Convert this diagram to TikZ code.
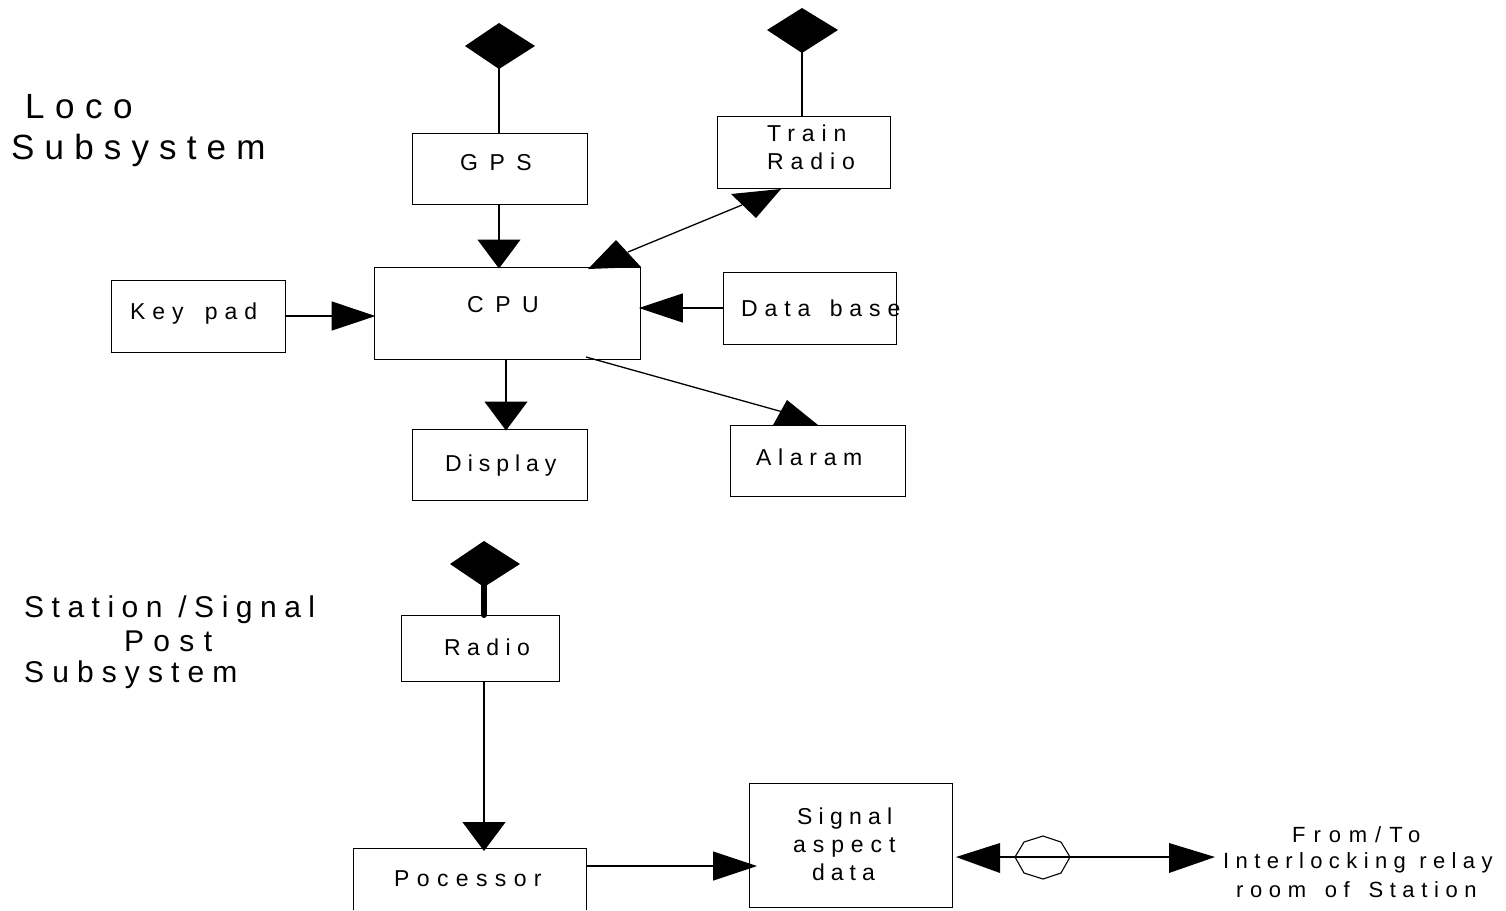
\documentclass[tikz,border=0pt]{standalone}
\usepackage{fontspec}
\setmainfont{Liberation Sans}
\usetikzlibrary{arrows.meta}
\tikzset{
  x=1pt,y=-1pt,
  box/.style={draw,line width=1.3pt,inner sep=0pt},
  lbl/.style={inner sep=0pt,anchor=west,font=\fontsize{23}{30}\selectfont},
  lblb/.style={lbl,anchor=base west},
  conn/.style={line width=1.3pt},
  arr/.style={conn,shorten >=-2pt,-{Triangle[length=44pt,width=29pt]}},
  arrv/.style={conn,shorten >=-2pt,-{Triangle[length=29pt,width=43pt]}},
  antenna/.style={fill=black,draw=none}
}
\newcommand{\bx}[5]{\node[box,anchor=north west,minimum width=#3pt,minimum height=#4pt] (#5) at (#1,#2) {};}
\newcommand{\LS}[1]{\addfontfeature{LetterSpace=#1}}
\begin{document}
\begin{tikzpicture}
\useasboundingbox (0,0) rectangle (1506,910);
\fill[white] (0,0) rectangle (1506,910);
% boxes
\bx{411.5}{132.5}{175}{71}{gps}
\bx{716.5}{116}{173}{72}{train}
\bx{373.5}{266.5}{266}{92}{cpu}
\bx{110.5}{279.5}{174}{72}{key}
\bx{722.5}{271.5}{173}{72}{data}
\bx{411.5}{428.5}{175}{71}{disp}
\bx{729.5}{424.5}{175}{71}{alarm}
\bx{401}{615}{158}{66}{radio}
\bx{748.5}{782.5}{203}{124}{sig}
\draw[line width=1.3pt] (353.5,910) |- (586.5,848.5) -- (586.5,910);
% labels
\begin{scope}[every node/.style={lbl}]
\node[lblb] (t1) at (25,118) {\fontsize{35}{40}\selectfont\LS{30}Loco};
\node[lblb] (t2) at (11,159.5) {\fontsize{35}{40}\selectfont\LS{29}Subsystem};
\node[lblb] (t3) at (24,617) {\fontsize{30}{36}\selectfont\LS{25}Station /Signal};
\node[lblb] (t4) at (124,651) {\fontsize{30}{36}\selectfont\LS{31}Post};
\node[lblb] (t5) at (24,682) {\fontsize{30}{36}\selectfont\LS{27}Subsystem};
\node (l1) at (460,163) {\LS{50}GPS};
\node (l2) at (767,133) {\LS{30}Train};
\node (l3) at (767,161) {\LS{30}Radio};
\node (l4) at (467,305) {\LS{50}CPU};
\node (l5) at (130,314) {\LS{30}Key\hspace{8pt} pad};
\node[lblb] (l6) at (741,316) {\LS{30}Data\hspace{6pt} base};
\node (l7) at (445,466) {\LS{26}Display};
\node (l8) at (756,457) {\LS{29}Alaram};
\node (l9) at (444,647) {\LS{28}Radio};
\node (l10) at (394,879) {\LS{32}Pocessor};
\node[lblb] (l11) at (797,824) {\LS{27}Signal};
\node[lblb] (l12) at (793,852) {\LS{30}aspect};
\node[lblb] (l13) at (812,880) {\LS{26}data};
\node[lblb] (l14) at (1292,842) {\fontsize{22}{30}\selectfont\LS{36}From/To};
\node[lblb] (l15) at (1223,868) {\fontsize{22}{30}\selectfont\LS{29}Interlocking\hspace{1pt} relay};
\node[lblb] (l16) at (1236,897) {\fontsize{22}{30}\selectfont\LS{30}room\hspace{6pt} of\hspace{6pt} Station};
\end{scope}
% antennas
\coordinate (a1) at (499,46);
\coordinate (a2) at (802,30);
\coordinate (a3) at (484,564);
\fill[antenna] (465,46) -- (499,23) -- (535,46) -- (499,69) -- cycle;
\fill[antenna] (767,30) -- (802,8) -- (838,30) -- (802,53) -- cycle;
\fill[antenna] (450,564) -- (484,541) -- (520,564) -- (484,587) -- cycle;
\draw[conn] (a1) -- (a1 |- gps.north);
\draw[conn] (a2) -- (a2 |- train.north);
\draw[line width=6pt,line cap=round] (a3) -- (a3 |- radio.north);
% connectors
\coordinate (g1) at (499,204);
\draw[arrv] (g1) -- (g1 |- cpu.north);
\coordinate (c1) at (628,252);
\coordinate (c2) at (742,205);
\draw[conn] (c1) -- (c2);
\fill (588,269) -- (616,240) -- (641,267) -- cycle;
\fill (781,189) -- (731,194) -- (756,218) -- cycle;
\coordinate (k1) at (285,316);
\draw[arr] (k1) -- (k1 -| cpu.west);
\coordinate (d1) at (723,308);
\draw[arr] (d1) -- (d1 -| cpu.east);
\coordinate (c3) at (506,359);
\draw[arrv] (c3) -- (c3 |- disp.north);
\coordinate (c4) at (586,357);
\coordinate (al) at (790,414);
\draw[conn] (c4) -- (al);
\fill (818,425) -- (773,425) -- (787,400) -- cycle;
\coordinate (r1) at (484,681);
\coordinate (r2) at (484,849);
\draw[arrv] (r1) -- (r2);
\coordinate (p1) at (587,866);
\coordinate (p2) at (755,866);
\draw[arr] (p1) -- (p2);
\coordinate (s1) at (1000,857);
\coordinate (s2) at (1170,857);
\draw[conn] (s1) -- (s2);
\fill (1000,843) -- (956,857) -- (1000,873) -- cycle;
\fill (1169,843) -- (1215,857) -- (1169,873) -- cycle;
\draw[line width=1.1pt] (1015,857) -- (1024,842) -- (1043,836) -- (1061,842) -- (1070,857) -- (1061,873) -- (1043,879) -- (1024,873) -- cycle;
\end{tikzpicture}
\end{document}
